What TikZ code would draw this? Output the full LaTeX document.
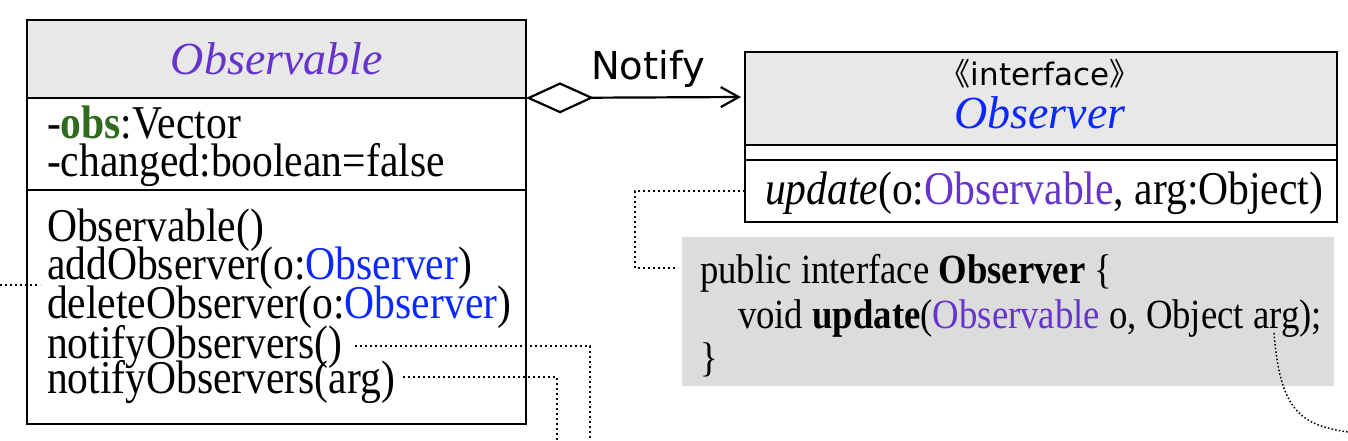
\documentclass[tikz,border=0pt]{standalone}
\usepackage{fontspec}
\setmainfont{Liberation Serif}[FakeStretch=0.885]
\newfontfamily\hdfont{Liberation Serif}
\newfontfamily\comic{DejaVu Sans}
\newfontfamily\cjk{Noto Sans CJK SC}
\usetikzlibrary{arrows.meta}
\definecolor{obspurple}{HTML}{6633CC}
\definecolor{obsblue}{HTML}{0A28FF}
\definecolor{obsgreen}{HTML}{2F6A1E}
\definecolor{headgray}{HTML}{E8E8E8}
\definecolor{codegray}{HTML}{DCDCDC}
\begin{document}
\begin{tikzpicture}[x=1pt,y=-1pt,
  box/.style={draw=black,line width=2.4pt,inner sep=0pt,outer sep=0pt,anchor=north west},
  txt/.style={inner sep=0pt,outer sep=0pt,anchor=base west,font=\fontsize{47}{38}\selectfont},
  headtxt/.style={inner sep=0pt,outer sep=0pt,anchor=base,font=\hdfont\itshape\fontsize{46}{46}\selectfont},
  codetxt/.style={inner sep=0pt,outer sep=0pt,anchor=base west,font=\fontsize{41.5}{44}\selectfont},
  dotline/.style={line width=2pt,dash pattern=on 2pt off 3pt,line cap=butt},
  assoc/.style={line width=2.2pt,{Diamond[open,length=68pt,width=31pt,line width=2.2pt]}-{Straight Barb[length=18pt,width=20pt,line width=2.2pt]}}
]
\useasboundingbox (0,0) rectangle (1348,440);

% Observable class
\node[box,fill=headgray,minimum width=499pt,minimum height=78pt] (obshead) at (27,20) {};
\node[box,fill=white,minimum width=499pt,minimum height=92pt] (obsattr) at (27,98) {};
\node[box,fill=white,minimum width=499pt,minimum height=234pt] (obsmeth) at (27,190) {};
\node[headtxt,text=obspurple] (obsname) at (277,74) {Observable};
\node[txt] (a1) at (47,138) {-\textcolor{obsgreen}{\textbf{obs}}:Vector};
\node[txt] (a2) at (47,176) {-changed:boolean=false};
\node[txt] (m1) at (47,241) {Observable()};
\node[txt] (m2) at (47,279) {addObserver(o:\textcolor{obsblue}{Observer})};
\node[txt] (m3) at (47,318) {deleteObserver(o:\textcolor{obsblue}{Observer})};
\node[txt] (m4) at (47,358) {notifyObservers()};
\node[txt] (m5) at (47,393) {notifyObservers(arg)};

% Observer interface
\node[box,fill=headgray,minimum width=592pt,minimum height=93pt] (ifhead) at (745,52) {};
\node[box,fill=white,minimum width=592pt,minimum height=15pt] (ifattr) at (745,145) {};
\node[box,fill=white,minimum width=592pt,minimum height=62pt] (ifmeth) at (745,160) {};
\node[inner sep=0pt,anchor=base,font=\comic\fontsize{31}{31}\selectfont] (stereo) at (1040,85) {{\cjk 《}interface{\cjk 》}};
\node[headtxt,text=obsblue] (ifname) at (1040,128) {Observer};
\node[txt] (upd) at (765,204) {\textit{update}(o:\textcolor{obspurple}{Observable}, arg:Object)};

% code box
\node[fill=codegray,inner sep=0pt,outer sep=0pt,anchor=north west,minimum width=652pt,minimum height=149pt] (code) at (682,237) {};
\node[codetxt] (c1) at (700,283) {public interface \textbf{Observer} \{};
\node[codetxt] (c2) at (738,328) {void \textbf{update}(\textcolor{obspurple}{Observable} o, Object arg);};
\node[codetxt] (c3) at (700,371) {\}};

% association
\coordinate (arrowend) at (741,97);
\draw[assoc] (obshead.south east) -- (arrowend);
\node[inner sep=0pt,anchor=base,font=\comic\fontsize{38.5}{38.5}\selectfont] (notify) at (648,79) {Notify};

% dotted connectors
\coordinate (leftend) at (0,285);
\coordinate (addend) at (40,285);
\draw[dotline] (leftend) -- (addend);
\coordinate (n4s) at (355,346);
\coordinate (n4b) at (590,440);
\draw[dotline] (n4s) -| (n4b);
\coordinate (n5s) at (403,377);
\coordinate (n5b) at (557,440);
\draw[dotline] (n5s) -| (n5b);
\coordinate (updl) at (745,191);
\coordinate (codel) at (678,268);
\coordinate (updcorner) at (635,191);
\draw[dotline] (updl) -- (updcorner) |- (codel);
\coordinate (argpt) at (1274,333);
\coordinate (curveend) at (1348,432);
\draw[line width=1.5pt,dash pattern=on 1.5pt off 2.2pt] (argpt) .. controls (1280,410) and (1300,425) .. (curveend);
\end{tikzpicture}
\end{document}
